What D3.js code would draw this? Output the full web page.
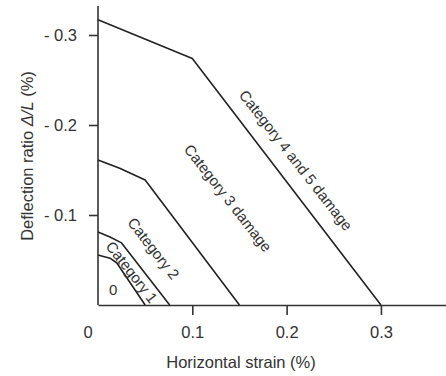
<!DOCTYPE html>
<html>
<head>
<meta charset="utf-8">
<script src="https://cdn.jsdelivr.net/npm/d3@7"></script>
<style>
  body { margin: 0; background: #fff; }
  text { font-family: "Liberation Sans", Arial, sans-serif; fill: #333; }
</style>
</head>
<body>
<svg id="chart" width="446" height="376"></svg>
<script>
// boundary lines between damage categories: [horizontal strain %, deflection ratio %]
const cat1Line = [[0, 0.0556], [0.0127, 0.052], [0.02, 0.0467], [0.05, 0]];
const cat2Line = [[0, 0.081], [0.0127, 0.0756], [0.025, 0.069], [0.076, 0]];
const cat3Line = [[0, 0.161], [0.023, 0.152], [0.05, 0.139], [0.15, 0]];
const cat45Line = [[0, 0.317], [0.06, 0.291], [0.1, 0.274], [0.3, 0]];

const xTicks = [0.1, 0.2, 0.3];
const yTicks = [0.1, 0.2, 0.3];

const regionLabels = ["0", "Category 1", "Category 2", "Category 3 damage", "Category 4 and 5 damage"];
const regionX = [0.016, 0.036, 0.059, 0.138, 0.21];
const regionY = [0.0167, 0.0367, 0.063, 0.119, 0.161];

const width = 446, height = 376;
const margin = { top: 6, right: 0, bottom: 71, left: 98 };

const xScale = d3.scaleLinear()
  .domain([0, 0.369])
  .range([margin.left, width - margin.right]);
const yScale = d3.scaleLinear()
  .domain([0, 0.3])
  .range([height - margin.bottom, height - margin.bottom - 270]);

const svg = d3.select("#chart");

// axes
const xAxis = d3.axisBottom(xScale)
  .tickValues(xTicks)
  .tickSize(10)
  .tickSizeOuter(0)
  .tickPadding(11)
  .tickFormat(d3.format(".1f"));
const xg = svg.append("g")
  .attr("transform", `translate(0,${yScale(0)})`)
  .call(xAxis);
xg.select(".domain").attr("stroke", "#333").attr("stroke-width", 1.6);
xg.selectAll(".tick line").attr("stroke", "#333").attr("stroke-width", 1.6);
xg.selectAll("text").attr("font-size", 16.5).attr("fill", "#333");

const yAxis = d3.axisLeft(yScale)
  .tickValues(yTicks)
  .tickSize(9)
  .tickSizeOuter(0)
  .tickPadding(12)
  .tickFormat(d => "- " + d3.format(".1f")(d));
const yg = svg.append("g")
  .attr("transform", `translate(${xScale(0)},0)`)
  .call(yAxis);
yg.select(".domain")
  .attr("d", `M0,${yScale(0)}V${margin.top}`)
  .attr("stroke", "#333").attr("stroke-width", 1.6);
yg.selectAll(".tick line").attr("stroke", "#333").attr("stroke-width", 1.6);
yg.selectAll("text").attr("font-size", 16.5).attr("fill", "#333");

// origin label
svg.append("text")
  .attr("x", xScale(0) - 10)
  .attr("y", yScale(0) + 21)
  .attr("dy", "0.71em")
  .attr("text-anchor", "middle")
  .attr("font-size", 16.5)
  .text("0");

// axis titles
svg.append("text")
  .attr("x", 241)
  .attr("y", 368)
  .attr("text-anchor", "middle")
  .attr("font-size", 16.5)
  .text("Horizontal strain (%)");

const yTitle = svg.append("text")
  .attr("transform", `translate(33,156) rotate(-90)`)
  .attr("text-anchor", "middle")
  .attr("font-size", 16.5);
yTitle.append("tspan").text("Deflection ratio  ");
yTitle.append("tspan").attr("font-style", "italic").text("Δ/L");
yTitle.append("tspan").text(" (%)");

// boundary lines
const line = d3.line()
  .x(d => xScale(d[0]))
  .y(d => yScale(d[1]));

svg.selectAll(".boundary")
  .data([cat1Line, cat2Line, cat3Line, cat45Line])
  .enter()
  .append("path")
  .attr("class", "boundary")
  .attr("fill", "none")
  .attr("stroke", "#222")
  .attr("stroke-width", 1.6)
  .attr("stroke-linejoin", "round")
  .attr("d", d => line(d));

// region labels
svg.selectAll(".region")
  .data(regionLabels)
  .enter()
  .append("text")
  .attr("class", "region")
  .attr("text-anchor", "middle")
  .attr("dominant-baseline", "central")
  .attr("font-size", 15)
  .attr("transform", (d, i) =>
    `translate(${xScale(regionX[i])},${yScale(regionY[i])}) rotate(${i === 0 ? 0 : 52})`)
  .text(d => d);
</script>
</body>
</html>
